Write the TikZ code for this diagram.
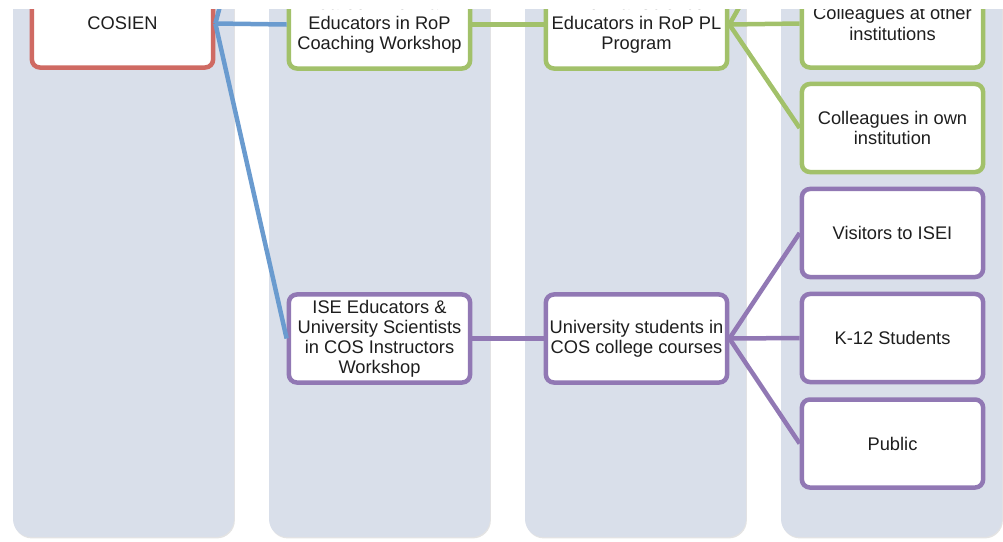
\documentclass[tikz,border=0pt]{standalone}
\usepackage{fontspec}
\setmainfont{Liberation Sans}
\usepackage{tikz}
\usetikzlibrary{shadows, positioning}
\definecolor{lane}{HTML}{D9DFEA}
\definecolor{cosred}{HTML}{CF6A63}
\definecolor{ropgreen}{HTML}{A2C16A}
\definecolor{cospurple}{HTML}{9178B4}
\definecolor{cosblue}{HTML}{6A9BCF}
\definecolor{boxtext}{HTML}{1E1E1E}

\begin{document}
\begin{tikzpicture}[x=0.025cm, y=-0.025cm, font=\fontsize{13}{14.3}\selectfont]
        \useasboundingbox (0,0) rectangle (1003,541);
        \clip (0,9) rectangle (1003,541);
        % lanes
        \foreach \x in {13,269,525,781} {
          \fill[lane, rounded corners=0.45cm, drop shadow={opacity=0.22, shadow xshift=0.6pt, shadow yshift=-1pt}]
            (\x,-100) rectangle ++(221,637);
        }
        \begin{scope}[every node/.style={draw, line width=3.2pt, rounded corners=0.2cm, fill=white,
            text=boxtext, align=center, minimum width=4.53cm, minimum height=2.2cm, inner sep=2pt}]
          \node[draw=cosred] (cosien) at (122.5,23.5) {COSIEN};
          \node[draw=ropgreen] (coach) at (379.5,24.5) {Career Informal\\Educators in RoP\\Coaching Workshop};
          \node[draw=ropgreen] (plprog) at (636.5,24.5) {Informal Science\\Educators in RoP PL\\Program};
          \node[draw=ropgreen] (other) at (892.5,23.5) {Colleagues at other\\institutions};
          \node[draw=ropgreen] (own) at (892.5,128) {Colleagues in own\\institution};
          \node[draw=cospurple] (visitors) at (892.5,233) {Visitors to ISEI};
          \node[draw=cospurple] (k12) at (892.5,338) {K-12 Students};
          \node[draw=cospurple] (public) at (892.5,443.5) {Public};
          \node[draw=cospurple] (instr) at (379.5,338.5) {ISE Educators \&\\University Scientists\\in COS Instructors\\Workshop};
          \node[draw=cospurple] (courses) at (636.5,338.5) {University students in\\COS college courses};
        \end{scope}
        \coordinate (abovecoach) at (288,-250);
        \coordinate (aboveother) at (800,-100);
        \begin{scope}[every edge/.style={draw, line width=3.2pt}]
          \path (cosien.east) edge[draw=cosblue] (coach.west);
          \path (cosien.east) edge[draw=cosblue] (instr.west);
          \path (cosien.east) edge[draw=cosblue] (abovecoach);
          \path (coach.east) edge[draw=ropgreen] (plprog.west);
          \path (plprog.east) edge[draw=ropgreen] (other.west);
          \path (plprog.east) edge[draw=ropgreen] (own.west);
          \path (plprog.east) edge[draw=ropgreen] (aboveother);
          \path (instr.east) edge[draw=cospurple] (courses.west);
          \path (courses.east) edge[draw=cospurple] (visitors.west);
          \path (courses.east) edge[draw=cospurple] (k12.west);
          \path (courses.east) edge[draw=cospurple] (public.west);
        \end{scope}
      \end{tikzpicture}
\end{document}
